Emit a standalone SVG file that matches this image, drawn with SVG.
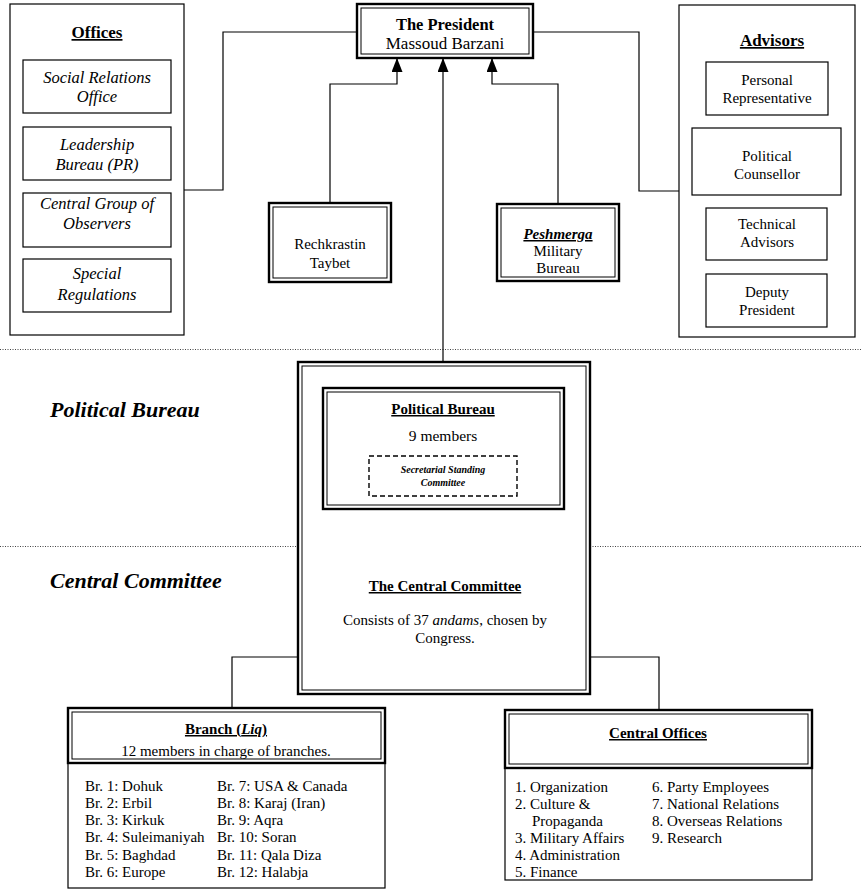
<svg xmlns="http://www.w3.org/2000/svg" width="862" height="890" viewBox="0 0 862 890" font-family="'Liberation Serif', 'Times New Roman', serif">
<style>
text{font-family:'Liberation Serif','Times New Roman',serif;fill:#000;text-anchor:middle}
.t15{font-family:'Liberation Serif',serif;font-size:15px}
.t16i{font-family:'Liberation Serif',serif;font-size:16.5px;font-style:italic}
.hb{font-family:'Liberation Serif',serif;font-size:17px;font-weight:bold;text-decoration:underline}
.b15{font-family:'Liberation Serif',serif;font-size:15px;font-weight:bold;text-decoration:underline}
.side{font-family:'Liberation Serif',serif;font-size:22px;font-weight:bold;font-style:italic;text-anchor:start}
.lst{font-family:'Liberation Serif',serif;font-size:15px;text-anchor:start}
.sm{font-family:'Liberation Serif',serif;font-size:10px;font-weight:bold;font-style:italic}
.box{fill:#fff;stroke:#000;stroke-width:1.2}
.dbo{fill:#fff;stroke:#000;stroke-width:2.4}
.dbi{fill:none;stroke:#000;stroke-width:1}
.ln{fill:none;stroke:#000;stroke-width:1.2}
.dot{stroke:#444;stroke-width:1;stroke-dasharray:1 1.5}
</style>
<defs>
<marker id="arr" viewBox="0 0 14 11" refX="14" refY="5.5" markerWidth="14" markerHeight="11" orient="auto" markerUnits="userSpaceOnUse">
<path d="M0,0 L14,5.5 L0,11 z" fill="#000"/>
</marker>
</defs>
<rect width="862" height="890" fill="#fff"/>
<g id="separators">
<line class="dot" x1="0" y1="349.5" x2="862" y2="349.5"/>
<line class="dot" x1="0" y1="546.5" x2="862" y2="546.5"/>
</g>
<g id="level-labels">
<text class="side" x="50" y="417">Political Bureau</text>
<text class="side" x="50" y="588">Central Committee</text>
</g>
<g id="connectors">
<polyline class="ln" points="184,190 223,190 223,32 357,32"/>
<polyline class="ln" points="533,32 639,32 639,191 679,191"/>
<polyline class="ln" points="330,203 330,84 397,84 397,58" marker-end="url(#arr)"/>
<polyline class="ln" points="558,204 558,84 492,84 492,58" marker-end="url(#arr)"/>
<line class="ln" x1="443" y1="388" x2="443" y2="58" marker-end="url(#arr)"/>
<polyline class="ln" points="298,657 232,657 232,708"/>
<polyline class="ln" points="590,657 659,657 659,710"/>
</g>
<g id="president">
<rect class="dbo" x="357" y="4" width="176" height="54"/>
<rect class="dbi" x="361" y="8" width="168" height="46"/>
<text x="445" y="30" style="font-family:'Liberation Serif',serif;font-size:16.5px;font-weight:bold">The President</text>
<text x="445" y="49" style="font-family:'Liberation Serif',serif;font-size:17px">Massoud Barzani</text>
</g>
<g id="offices">
<rect class="box" x="10" y="4" width="174" height="331"/>
<text class="hb" x="97" y="38">Offices</text>
</g>
<g id="office-social">
<rect class="box" x="23" y="60" width="148" height="53"/>
<text class="t16i" x="97" y="83">Social Relations</text>
<text class="t16i" x="97" y="102">Office</text>
</g>
<g id="office-leadership">
<rect class="box" x="23" y="127" width="148" height="53"/>
<text class="t16i" x="97" y="150">Leadership</text>
<text class="t16i" x="97" y="170">Bureau (PR)</text>
</g>
<g id="office-observers">
<rect class="box" x="23" y="193" width="148" height="54"/>
<text class="t16i" x="97" y="209">Central Group of</text>
<text class="t16i" x="97" y="229">Observers</text>
</g>
<g id="office-special">
<rect class="box" x="23" y="259" width="148" height="53"/>
<text class="t16i" x="97" y="279">Special</text>
<text class="t16i" x="97" y="300">Regulations</text>
</g>
<g id="advisors">
<rect class="box" x="679" y="5" width="176" height="332"/>
<text class="hb" x="772" y="46">Advisors</text>
</g>
<g id="adv-personal">
<rect class="box" x="706" y="62" width="122" height="53"/>
<text class="t15" x="767" y="85">Personal</text>
<text class="t15" x="767" y="103">Representative</text>
</g>
<g id="adv-political">
<rect class="box" x="692" y="128" width="149" height="67"/>
<text class="t15" x="767" y="161">Political</text>
<text class="t15" x="767" y="179">Counsellor</text>
</g>
<g id="adv-technical">
<rect class="box" x="706" y="208" width="121" height="52"/>
<text class="t15" x="767" y="229">Technical</text>
<text class="t15" x="767" y="247">Advisors</text>
</g>
<g id="adv-deputy">
<rect class="box" x="706" y="274" width="121" height="53"/>
<text class="t15" x="767" y="297">Deputy</text>
<text class="t15" x="767" y="315">President</text>
</g>
<g id="rechkrastin">
<rect class="dbo" x="269" y="203" width="122" height="79"/>
<rect class="dbi" x="273" y="207" width="114" height="71"/>
<text class="t15" x="330" y="249">Rechkrastin</text>
<text class="t15" x="330" y="268">Taybet</text>
</g>
<g id="peshmerga">
<rect class="dbo" x="497" y="204" width="122" height="77"/>
<rect class="dbi" x="501" y="208" width="114" height="69"/>
<text x="558" y="239" style="font-family:'Liberation Serif',serif;font-size:15px;font-weight:bold;font-style:italic;text-decoration:underline">Peshmerga</text>
<text class="t15" x="558" y="256">Military</text>
<text class="t15" x="558" y="273">Bureau</text>
</g>
<g id="central-committee">
<rect class="dbo" x="298" y="362" width="292" height="332"/>
<rect class="dbi" x="302" y="366" width="284" height="324"/>
<text class="b15" x="445" y="591">The Central Committee</text>
<text class="t15" x="445" y="625">Consists of 37 <tspan font-style="italic">andams</tspan>, chosen by</text>
<text class="t15" x="445" y="643">Congress.</text>
</g>
<g id="political-bureau">
<rect class="dbo" x="323" y="388" width="241" height="121"/>
<rect class="dbi" x="327" y="392" width="233" height="113"/>
<text class="b15" x="443" y="414">Political Bureau</text>
<text x="443" y="441" style="font-family:'Liberation Serif',serif;font-size:15.5px">9 members</text>
</g>
<g id="secretarial">
<rect x="369" y="456" width="148" height="40" fill="none" stroke="#000" stroke-width="1.4" stroke-dasharray="5 3"/>
<text class="sm" x="443" y="473">Secretarial Standing</text>
<text class="sm" x="443" y="486">Committee</text>
</g>
<g id="branch">
<rect class="box" x="68" y="763" width="317" height="125"/>
<rect class="dbo" x="68" y="708" width="317" height="55"/>
<rect class="dbi" x="72" y="712" width="309" height="47"/>
<text class="b15" x="226" y="734">Branch (<tspan font-style="italic">Liq</tspan>)</text>
<text class="t15" x="226" y="756">12 members in charge of branches.</text>
<text class="lst" x="85" y="791">Br. 1: Dohuk</text>
<text class="lst" x="85" y="808">Br. 2: Erbil</text>
<text class="lst" x="85" y="825">Br. 3: Kirkuk</text>
<text class="lst" x="85" y="842">Br. 4: Suleimaniyah</text>
<text class="lst" x="85" y="860">Br. 5: Baghdad</text>
<text class="lst" x="85" y="877">Br. 6: Europe</text>
<text class="lst" x="217" y="791">Br. 7: USA &amp; Canada</text>
<text class="lst" x="217" y="808">Br. 8: Karaj (Iran)</text>
<text class="lst" x="217" y="825">Br. 9: Aqra</text>
<text class="lst" x="217" y="842">Br. 10: Soran</text>
<text class="lst" x="217" y="860">Br. 11: Qala Diza</text>
<text class="lst" x="217" y="877">Br. 12: Halabja</text>
</g>
<g id="central-offices">
<rect class="box" x="505" y="768" width="307" height="112"/>
<rect class="dbo" x="505" y="710" width="307" height="58"/>
<rect class="dbi" x="509" y="714" width="299" height="50"/>
<text class="b15" x="658" y="738">Central Offices</text>
<text class="lst" x="515" y="792">1. Organization</text>
<text class="lst" x="515" y="809">2. Culture &amp;</text>
<text class="lst" x="532" y="826">Propaganda</text>
<text class="lst" x="515" y="843">3. Military Affairs</text>
<text class="lst" x="515" y="860">4. Administration</text>
<text class="lst" x="515" y="877">5. Finance</text>
<text class="lst" x="652" y="792">6. Party Employees</text>
<text class="lst" x="652" y="809">7. National Relations</text>
<text class="lst" x="652" y="826">8. Overseas Relations</text>
<text class="lst" x="652" y="843">9. Research</text>
</g>
</svg>
